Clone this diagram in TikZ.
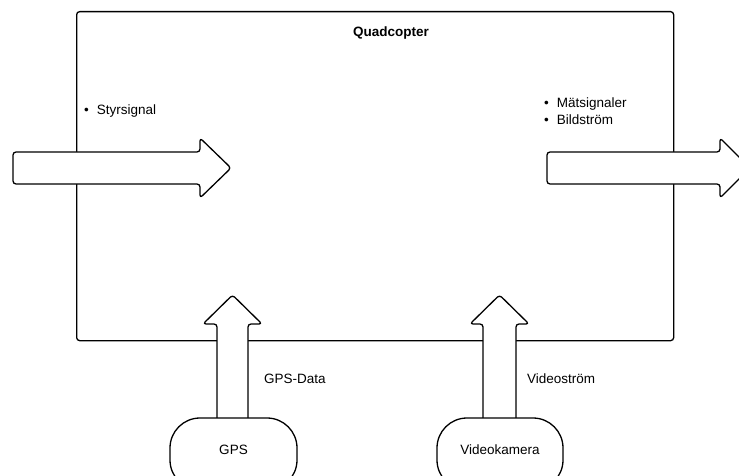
\documentclass[tikz,border=0pt]{standalone}
\usepackage{fontspec}
\setmainfont{Liberation Sans}
\begin{document}
\begin{tikzpicture}[x=1pt,y=-1pt,
  line/.style={draw=black,line width=1.3pt},
  fatarrow/.style={line,fill=white,rounded corners=3pt,line join=round},
  source/.style={line,fill=white,rounded corners=30pt},
  lbl/.style={inner sep=0pt,font=\fontsize{13.5}{17}\selectfont},
  bullets/.style={lbl,anchor=west,align=left}
]
\useasboundingbox (0,0) rectangle (739,476);
\clip (0,0) rectangle (739,476);

% system boundary
\node[line,rounded corners=3pt,minimum width=597pt,minimum height=329pt,
      inner sep=0pt,anchor=north west] (quad) at (76,11) {};
\node[lbl,font=\fontsize{13.5}{17}\selectfont\bfseries] (title) at (391,33) {Quadcopter};

% inputs and outputs
\node[bullets] (in) at (84,111) {\textbullet\hspace{8pt}Styrsignal};
\node[bullets] (out) at (544,111.5) {\textbullet\hspace{8pt}Mätsignaler\\\textbullet\hspace{8pt}Bildström};

% control signal entering from the left
\coordinate (inTail) at (13,168);
\coordinate (inTip) at (231,168);
\draw[fatarrow] (13,152) -- (200,152) -- (200,138) -- (inTip)
  -- (200,198) -- (200,184) -- (13,184) -- cycle;

% measurements and video leaving to the right
\coordinate (outTail) at (547,168);
\coordinate (outTip) at (750,168);
\draw[fatarrow] (547,152) -- (720,152) -- (720,138) -- (outTip)
  -- (720,198) -- (720,184) -- (547,184) -- cycle;

% GPS feeding the quadcopter
\coordinate (gpsTip) at (232.5,295);
\draw[fatarrow] (217,430) -- (217,324) -- (203,324) -- (gpsTip)
  -- (262,324) -- (248,324) -- (248,430) -- cycle;
\draw[source] (170,418) rectangle (297,490);
\node[lbl] (gps) at (233.5,450) {GPS};
\node[lbl,anchor=west] (gpsdata) at (264,378.5) {GPS-Data};

% camera feeding the quadcopter
\coordinate (camTip) at (499.5,295);
\draw[fatarrow] (483,430) -- (483,324) -- (470,324) -- (camTip)
  -- (529,324) -- (516,324) -- (516,430) -- cycle;
\draw[source] (437,418) rectangle (563,490);
\node[lbl] (cam) at (500,450) {Videokamera};
\node[lbl,anchor=west] (video) at (527,378.5) {Videoström};
\end{tikzpicture}
\end{document}
